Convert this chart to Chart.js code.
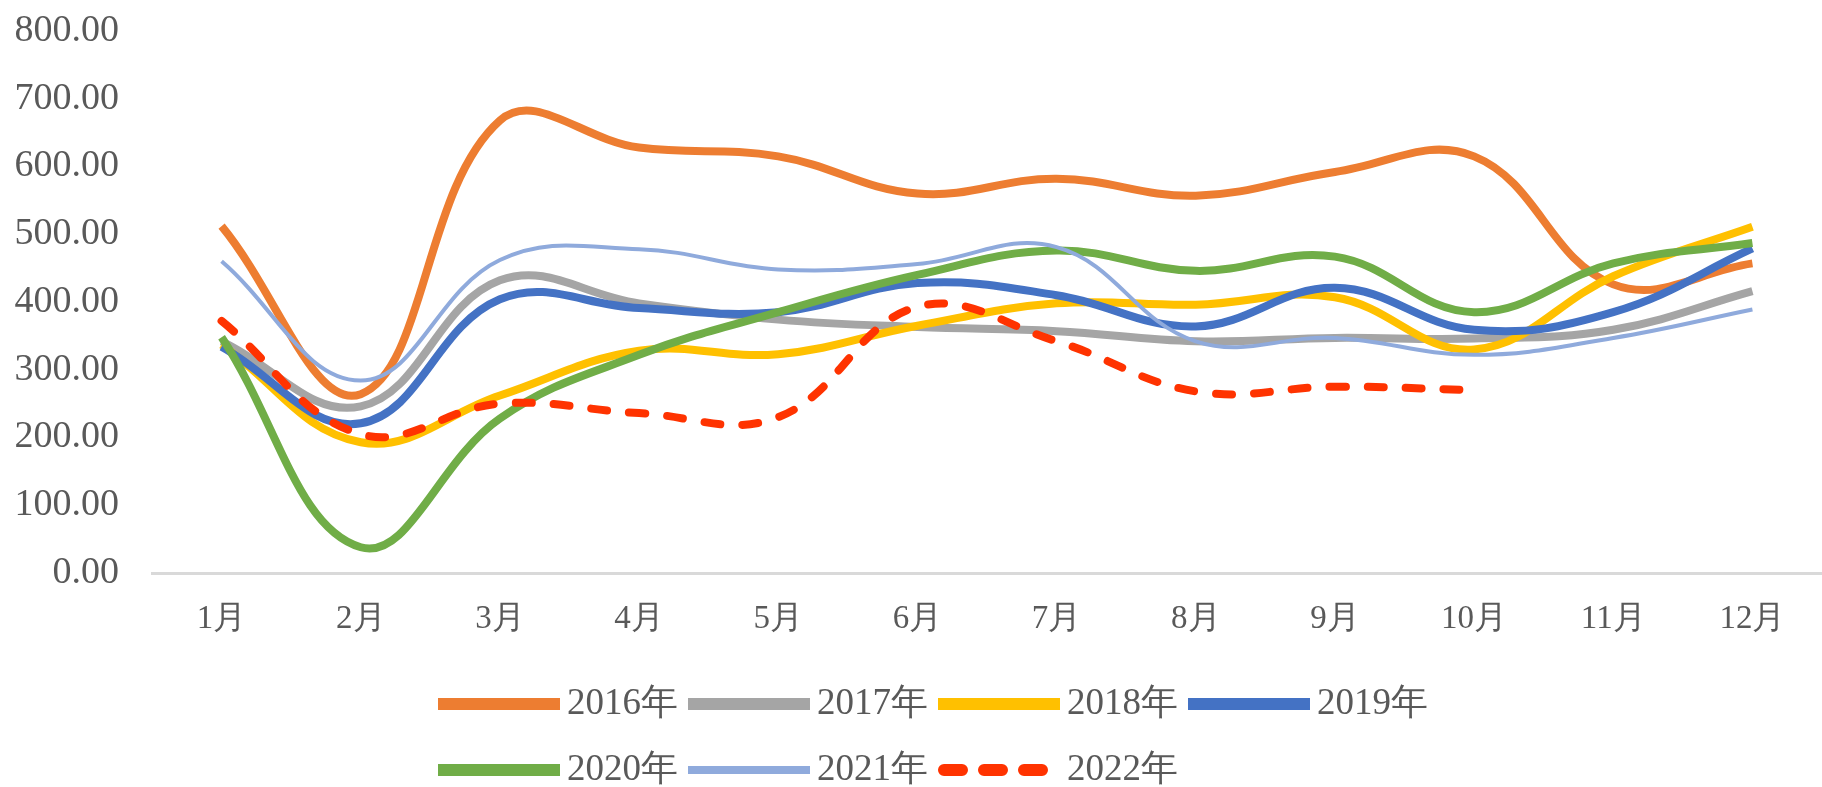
<!DOCTYPE html>
<html>
<head>
<meta charset="utf-8">
<script src="https://cdn.jsdelivr.net/npm/chart.js@4.4.1/dist/chart.umd.min.js"></script>
<style>
  html, body { margin: 0; padding: 0; background: #fff; }
  #wrap { width: 1822px; height: 787px; }
</style>
</head>
<body>
<div id="wrap"><canvas id="lineChart"></canvas></div>
<script>
// Month categories and yearly series
const months = ['1月', '2月', '3月', '4月', '5月', '6月', '7月', '8月', '9月', '10月', '11月', '12月'];
const years = ['2016年', '2017年', '2018年', '2019年', '2020年', '2021年', '2022年'];

const y2016 = [512, 264, 668, 628, 615, 560, 582, 557, 592, 615, 426, 457];
const y2017 = [342, 246, 432, 398, 374, 363, 357, 342, 347, 346, 359, 416];
const y2018 = [337, 193, 262, 328, 323, 365, 398, 396, 407, 330, 438, 511];
const y2019 = [334, 221, 404, 391, 385, 428, 410, 364, 421, 359, 385, 479];
const y2020 = [348, 38, 228, 322, 385, 440, 476, 446, 467, 385, 457, 487];
const y2021 = [460, 284, 462, 478, 448, 456, 481, 342, 347, 322, 347, 389];
const y2022 = [372, 205, 250, 236, 230, 393, 342, 268, 275, 270, null, null];

const textColor = '#595959';
const serif = "'Liberation Serif', 'Times New Roman', serif";

function series(label, data, color, width, order, dash) {
    return {
        label: label,
        data: data,
        borderColor: color,
        backgroundColor: color,
        borderWidth: width,
        borderDash: dash || [],
        borderCapStyle: dash ? 'round' : 'butt',
        tension: 0.4,
        pointRadius: 0,
        fill: false,
        order: order
    };
}

// legend drawn in two left-aligned rows like the original
const legendRows = [[0, 1, 2, 3], [4, 5, 6]];
const rowLegend = {
    id: 'rowLegend',
    afterDraw(chart) {
        const ctx = chart.ctx;
        const sets = chart.data.datasets;
        ctx.save();
        ctx.font = '37px ' + serif;
        ctx.textBaseline = 'middle';
        legendRows.forEach((row, r) => {
            let x = 438;
            const y = 704 + r * 66;
            row.forEach(i => {
                const ds = sets[i];
                ctx.beginPath();
                ctx.strokeStyle = ds.borderColor;
                ctx.lineWidth = ds.borderWidth + 4;
                ctx.lineCap = ds.borderCapStyle;
                ctx.setLineDash(ds.borderDash.length ? [18, 22] : []);
                ctx.moveTo(x + (ds.borderDash.length ? 6 : 0), y);
                ctx.lineTo(x + 122, y);
                ctx.stroke();
                ctx.setLineDash([]);
                ctx.fillStyle = textColor;
                ctx.fillText(ds.label, x + 129, y);
                x += 129 + ctx.measureText(ds.label).width + 10;
            });
        });
        ctx.restore();
    }
};

const ctx = document.getElementById('lineChart').getContext('2d');
new Chart(ctx, {
    type: 'line',
    data: {
        labels: months,
        datasets: [
            series(years[0], y2016, '#ED7D31', 8, 7),
            series(years[1], y2017, '#A5A5A5', 8, 6),
            series(years[2], y2018, '#FFC000', 8, 5),
            series(years[3], y2019, '#4472C4', 8, 4),
            series(years[4], y2020, '#70AD47', 8, 3),
            series(years[5], y2021, '#8FAADC', 4, 2),
            series(years[6], y2022, '#FF3300', 8, 1, [16, 22])
        ]
    },
    options: {
        responsive: true,
        maintainAspectRatio: false,
        animation: false,
        layout: { padding: { top: 31, right: 0, bottom: 114, left: 0 } },
        plugins: {
            legend: { display: false },
            tooltip: { enabled: false }
        },
        scales: {
            x: {
                offset: true,
                grid: { display: false, drawTicks: false },
                border: { display: true, color: '#D9D9D9', width: 3 },
                ticks: {
                    color: textColor,
                    font: { family: serif, size: 33 },
                    padding: 27,
                    maxRotation: 0,
                    autoSkip: false
                },
                afterFit: s => { s.height = 100; }
            },
            y: {
                min: 0,
                max: 800,
                grid: { display: false, drawTicks: false },
                border: { display: false },
                ticks: {
                    stepSize: 100,
                    color: textColor,
                    font: { family: serif, size: 38 },
                    padding: 33,
                    callback: v => v.toFixed(2)
                },
                afterFit: s => {
                    s.width = 152;
                    s.paddingTop = 0;
                    s.paddingBottom = 0;
                }
            }
        }
    },
    plugins: [rowLegend]
});
</script>
</body>
</html>
